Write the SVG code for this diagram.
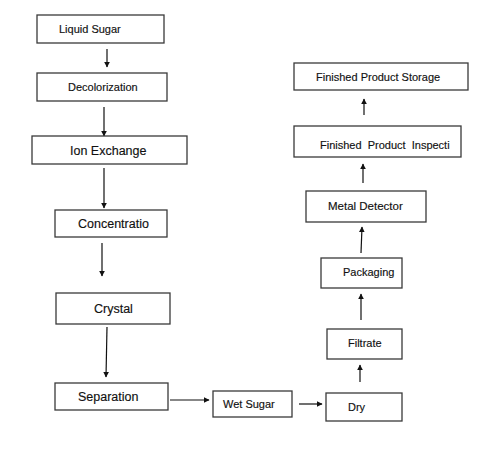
<svg xmlns="http://www.w3.org/2000/svg" width="500" height="453" viewBox="0 0 500 453">
<style>
.box{fill:#fff;stroke:#3a3a3a;stroke-width:1.3}
.t{font-family:"Liberation Sans",Arial,sans-serif;fill:#111;stroke:#111;stroke-width:0.15}
.s{font-size:11px}
.m{font-size:12.5px}
.c{stroke:#111;stroke-width:1.2;fill:none;marker-end:url(#ah)}
</style>
<defs>
<marker id="ah" viewBox="0 0 10 10" refX="9" refY="5" markerWidth="6" markerHeight="6" markerUnits="userSpaceOnUse" orient="auto">
<path d="M0,0 L10,5 L0,10 z" fill="#111"/>
</marker>
</defs>
<rect width="500" height="453" fill="#fff"/>
<g id="connectors">
<line class="c" x1="107" y1="49" x2="107" y2="67"/>
<line class="c" x1="104" y1="107" x2="104" y2="136"/>
<line class="c" x1="104" y1="168" x2="104" y2="208"/>
<line class="c" x1="102" y1="243" x2="102" y2="276"/>
<line class="c" x1="107" y1="327" x2="106" y2="377"/>
<line class="c" x1="170" y1="400" x2="209" y2="400"/>
<line class="c" x1="299" y1="404" x2="322" y2="404"/>
<line class="c" x1="360" y1="382" x2="360" y2="365"/>
<line class="c" x1="361" y1="320" x2="361" y2="294"/>
<line class="c" x1="361" y1="253" x2="362" y2="227"/>
<line class="c" x1="363" y1="183" x2="363" y2="164"/>
<line class="c" x1="364" y1="115" x2="364" y2="99"/>
</g>
<g id="liquid-sugar"><rect class="box" x="37" y="15" width="127" height="28"/><text class="t s" x="59" y="33">Liquid Sugar</text></g>
<g id="decolorization"><rect class="box" x="37" y="73" width="130" height="28"/><text class="t s" x="68" y="91">Decolorization</text></g>
<g id="ion-exchange"><rect class="box" x="32" y="136" width="155" height="28"/><text class="t m" x="70" y="155">Ion Exchange</text></g>
<g id="concentratio"><rect class="box" x="55" y="210" width="112" height="27"/><text class="t m" x="78" y="228">Concentratio</text></g>
<g id="crystal"><rect class="box" x="56" y="293" width="114" height="31"/><text class="t m" x="94" y="313">Crystal</text></g>
<g id="separation"><rect class="box" x="55" y="383" width="113" height="27"/><text class="t m" x="78" y="401">Separation</text></g>
<g id="wet-sugar"><rect class="box" x="213" y="391" width="79" height="26"/><text class="t s" x="223" y="408">Wet Sugar</text></g>
<g id="dry"><rect class="box" x="326" y="393" width="76" height="28"/><text class="t s" x="348" y="411">Dry</text></g>
<g id="filtrate"><rect class="box" x="327" y="329" width="75" height="30"/><text class="t s" x="348" y="347">Filtrate</text></g>
<g id="packaging"><rect class="box" x="321" y="258" width="81" height="30"/><text class="t s" x="343" y="276">Packaging</text></g>
<g id="metal-detector"><rect class="box" x="306" y="191" width="120" height="31"/><text class="t s" x="328" y="210" style="font-size:11.5px">Metal Detector</text></g>
<g id="finished-product-inspection"><rect class="box" x="294" y="126" width="167" height="31"/><text class="t s" x="320" y="149" xml:space="preserve">Finished  Product  Inspecti</text></g>
<g id="finished-product-storage"><rect class="box" x="294" y="63" width="174" height="27"/><text class="t s" x="316" y="81">Finished Product Storage</text></g>
</svg>
